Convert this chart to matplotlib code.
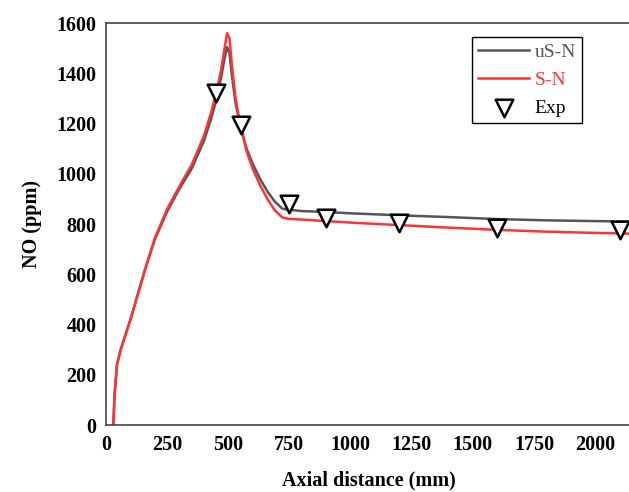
import numpy as np
import matplotlib.pyplot as plt

plt.rcParams['font.family'] = ['Liberation Serif', 'DejaVu Serif']

# simulated profiles (axial distance in mm, NO in ppm)
x_sim = [30, 35, 45, 60, 80, 100, 130, 160, 200, 250, 300, 350, 400, 430, 450,
         470, 485, 495, 505, 515, 530, 550, 575, 600, 630, 660, 690, 720, 745,
         770, 800, 900, 1000, 1200, 1400, 1600, 1800, 2000, 2150]
no_usn = [0, 120, 240, 300, 360, 420, 520, 620, 740, 850, 940, 1020, 1130, 1220,
          1290, 1380, 1460, 1505, 1480, 1390, 1280, 1190, 1100, 1040, 980, 930,
          890, 862, 857, 855, 852, 848, 843, 835, 828, 820, 815, 812, 810]
no_sn = [0, 120, 240, 300, 360, 420, 520, 620, 745, 860, 950, 1035, 1150, 1245,
         1320, 1410, 1500, 1560, 1540, 1430, 1300, 1190, 1090, 1020, 955, 900,
         855, 827, 821, 820, 818, 812, 806, 796, 786, 777, 770, 765, 762]

# measurements
x_exp = [450, 550, 750, 900, 1200, 1600, 2100]
no_exp = [1320, 1195, 880, 825, 805, 785, 778]

fig = plt.figure(figsize=(6.29, 4.92), dpi=100)
ax = fig.add_axes([0.1685, 0.136, 0.836, 0.817])

ax.plot(x_sim, no_usn, color='#555555', lw=1.8, label='uS-N')
ax.plot(x_sim, no_sn, color='#ff3333', lw=1.8, label='S-N')
ax.scatter(x_exp, no_exp, marker='v', s=160, facecolors='white',
           edgecolors='black', linewidths=1.8, zorder=3, label='Exp')

ax.set_xlim(0, 2150)
ax.set_ylim(0, 1600)
ax.set_xticks(np.arange(0, 2001, 250))
ax.set_yticks(np.arange(0, 1601, 200))
ax.tick_params(length=0, labelsize=14.5, pad=7)
for lab in ax.get_xticklabels() + ax.get_yticklabels():
    lab.set_fontweight('bold')
for s in ax.spines.values():
    s.set_color('#444444')
    s.set_linewidth(1.2)

ax.set_xlabel('Axial distance (mm)', fontsize=14.5, fontweight='bold', labelpad=11)
ax.set_ylabel('NO (ppm)', fontsize=14.5, fontweight='bold', labelpad=10)

leg = ax.legend(loc='upper right', bbox_to_anchor=(0.905, 0.965), fontsize=14,
                frameon=True, fancybox=False, edgecolor='black', framealpha=1,
                handlelength=2.6, handletextpad=0.3, borderpad=0.3,
                labelspacing=0.55, borderaxespad=0)
leg.get_frame().set_linewidth(1.0)
for txt, c in zip(leg.get_texts(), ['#555555', '#ff3333', 'black']):
    txt.set_color(c)

fig.savefig('out.png', dpi=100)
